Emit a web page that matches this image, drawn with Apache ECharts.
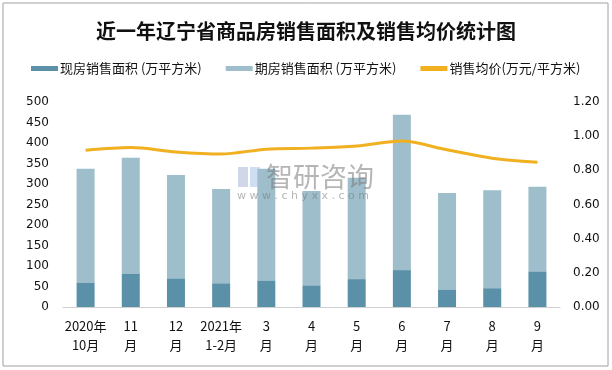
<!DOCTYPE html>
<html><head><meta charset="utf-8">
<script src="https://cdn.jsdelivr.net/npm/echarts@6/dist/echarts.min.js"></script>
<style>html,body{margin:0;padding:0;background:#fff}#c{width:612px;height:370px}</style>
</head><body><div id="c"></div>
<script>
const categories = ['2020年\n10月','11\n月','12\n月','2021年\n1-2月','3\n月','4\n月','5\n月','6\n月','7\n月','8\n月','9\n月'];
const spotArea = [60, 82, 70, 58, 65, 53, 68, 90, 43, 46, 87];
const futureArea = [277, 282, 252, 230, 272, 230, 247, 379, 235, 239, 206];
const avgPrice = [0.918, 0.933, 0.908, 0.896, 0.924, 0.930, 0.942, 0.971, 0.920, 0.871, 0.848];
const leftTicks = {min: 0, max: 500, interval: 50};
const rightTicks = {min: 0, max: 1.2, interval: 0.2};
const seriesNames = ['现房销售面积 (万平方米)', '期房销售面积 (万平方米)', '销售均价(万元/平方米)'];

const chart = echarts.init(document.getElementById('c'));
const font = '"Noto Sans CJK SC", sans-serif';
chart.setOption({
  animation: false,
  backgroundColor: '#fff',
  title: {
    text: '近一年辽宁省商品房销售面积及销售均价统计图',
    left: 'center', top: 16,
    textStyle: {fontFamily: '"Noto Sans CJK SC", serif', fontSize: 20, fontWeight: 'bold', color: '#111'}
  },
  legend: {
    top: 57, left: 26, itemGap: 24, itemWidth: 27, itemHeight: 5,
    textStyle: {fontFamily: font, fontSize: 13, color: '#111', padding: [0, 0, 0, -3]},
    data: seriesNames.map(n => ({name: n, icon: 'rect'}))
  },
  graphic: [
    {type: 'rect', shape: {x: 3, y: 3, width: 605, height: 363}, style: {fill: 'none', stroke: '#a0a0a0', lineWidth: 1}, silent: true},
    {type: 'text', left: 266, top: 163, style: {text: '智研咨询', font: '27px "Noto Sans CJK SC"', fill: 'rgba(120,120,120,0.55)'}, z: 100},
    {type: 'text', left: 237, top: 191, style: {text: 'w w w . c h y x x . c o m', font: '11px "DejaVu Sans"', fill: 'rgba(120,120,120,0.55)'}, z: 100},
    {type: 'rect', shape: {x: 238, y: 167, width: 10, height: 20}, style: {fill: 'rgba(160,175,210,0.5)'}, z: 100},
    {type: 'rect', shape: {x: 250, y: 167, width: 10, height: 20}, style: {fill: 'rgba(160,190,225,0.5)'}, z: 100}
  ],
  grid: {left: 63, right: 52, top: 102, bottom: 63},
  xAxis: {
    type: 'category', data: categories,
    axisLine: {lineStyle: {color: '#d0d0d0'}},
    axisTick: {show: false},
    axisLabel: {fontFamily: font, fontSize: 13, color: '#111', lineHeight: 19, margin: 10, interval: 0}
  },
  yAxis: [
    {type: 'value', min: leftTicks.min, max: leftTicks.max, interval: leftTicks.interval,
     splitLine: {show: false}, axisLine: {show: false}, axisTick: {show: false},
     axisLabel: {fontFamily: '"DejaVu Sans", sans-serif', fontSize: 12, color: '#111', margin: 14}},
    {type: 'value', min: rightTicks.min, max: rightTicks.max, interval: rightTicks.interval,
     splitLine: {show: false}, axisLine: {show: false}, axisTick: {show: false},
     axisLabel: {fontFamily: '"DejaVu Sans", sans-serif', fontSize: 12, color: '#111', margin: 13,
       formatter: v => v.toFixed(2)}}
  ],
  series: [
    {name: seriesNames[0], type: 'bar', stack: 'a', data: spotArea, barWidth: 18,
     itemStyle: {color: '#5b91a8'}},
    {name: seriesNames[1], type: 'bar', stack: 'a', data: futureArea, barWidth: 18,
     itemStyle: {color: '#9fbecb'}},
    {name: seriesNames[2], type: 'line', yAxisIndex: 1, data: avgPrice, smooth: 0.3,
     symbol: 'none', lineStyle: {color: '#f0b020', width: 3}, itemStyle: {color: '#f0b020'}}
  ]
});
</script></body></html>
